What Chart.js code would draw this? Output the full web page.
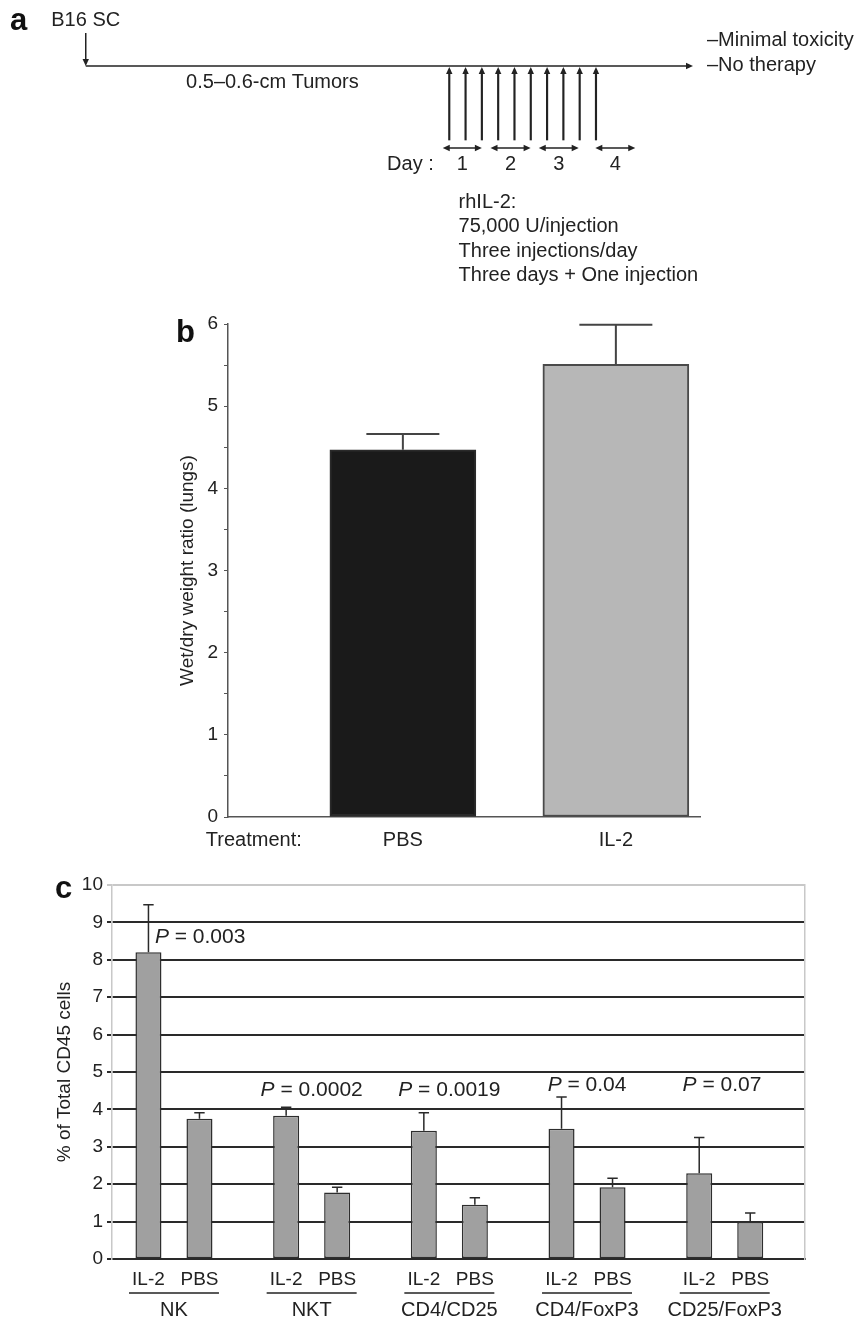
<!DOCTYPE html>
<html>
<head>
<meta charset="utf-8">
<script src="https://cdn.jsdelivr.net/npm/chart.js@4.4.1/dist/chart.umd.min.js"></script>
<style>
  html, body { margin: 0; padding: 0; background: #fff; }
  #page { position: relative; width: 863px; height: 1321px; }
  canvas { position: absolute; left: 0; }
  #panel_a { top: 0; }
  #panel_b { top: 300px; }
  #panel_c { top: 860px; }
</style>
</head>
<body>
<div id="page">
  <canvas id="panel_a" width="863" height="300"></canvas>
  <canvas id="panel_b" width="863" height="560"></canvas>
  <canvas id="panel_c" width="863" height="461"></canvas>
</div>
<script>
// panel a: treatment schedule (time in injection intervals, 0 = first dose)
const injections = [0, 1, 2, 3, 4, 5, 6, 7, 8, 9];
const implantTime = -22.3;
const timelineEnd = 14.95;
const tumorLabelTime = -10.85;
const dayLabels = ['1', '2', '3', '4'];
const daySpans = [[-0.4, 2.0], [2.53, 4.99], [5.49, 7.94], [8.96, 11.41]];
const regimen = ['rhIL-2:', '75,000 U/injection', 'Three injections/day', 'Three days + One injection'];
const outcomes = ['\u2013Minimal toxicity', '\u2013No therapy'];

// panel b: lung wet/dry weight ratio
const treatments = ['PBS', 'IL-2'];
const ratioMeans = [4.47, 5.51];
const ratioErr = [0.19, 0.48];
const bTickPos = [0.3, 1, 2];
const bTickText = ['Treatment:', 'PBS', 'IL-2'];

// panel c: % of total CD45 cells
const cellTypes = ['NK', 'NKT', 'CD4/CD25', 'CD4/FoxP3', 'CD25/FoxP3'];
const il2Pct = [8.2, 3.83, 3.43, 3.48, 2.29];
const il2Err = [1.27, 0.23, 0.48, 0.85, 0.96];
const pbsPct = [3.75, 1.78, 1.45, 1.92, 0.99];
const pbsErr = [0.16, 0.14, 0.19, 0.24, 0.24];
const pValues = ['0.003', '0.0002', '0.0019', '0.04', '0.07'];
const pLabelY = [8.61, 4.52, 4.52, 4.65, 4.65];
const pLabelDx = [0.19, 0, 0, 0, -0.02];

const FONT = "'Liberation Sans', Arial, sans-serif";
const INK = '#222';

function arrowHead(ctx, x, y, angle) {
  ctx.save();
  ctx.translate(x, y);
  ctx.rotate(angle);
  ctx.beginPath();
  ctx.moveTo(0, 0);
  ctx.lineTo(-7, -3.2);
  ctx.lineTo(-7, 3.2);
  ctx.closePath();
  ctx.fill();
  ctx.restore();
}

function panelLetter(ctx, letter, x, y) {
  ctx.save();
  ctx.fillStyle = '#111';
  ctx.font = 'bold 31px ' + FONT;
  ctx.textBaseline = 'middle';
  ctx.textAlign = 'left';
  ctx.fillText(letter, x, y);
  ctx.restore();
}

const errorBars = {
  id: 'errorBars',
  afterDatasetsDraw(chart, args, opts) {
    const ctx = chart.ctx;
    const ys = chart.scales.y;
    ctx.save();
    ctx.strokeStyle = opts.color;
    ctx.lineWidth = opts.width;
    chart.data.datasets.forEach((ds, i) => {
      if (!ds.errorBars) return;
      const meta = chart.getDatasetMeta(i);
      meta.data.forEach((bar, j) => {
        const d = ds.data[j];
        const v = typeof d === 'object' ? d.y : d;
        const top = ys.getPixelForValue(v + ds.errorBars[j]);
        const half = bar.width * opts.capRatio / 2;
        ctx.beginPath();
        ctx.moveTo(bar.x, bar.y);
        ctx.lineTo(bar.x, top);
        ctx.moveTo(bar.x - half, top);
        ctx.lineTo(bar.x + half, top);
        ctx.stroke();
      });
    });
    ctx.restore();
  }
};

function schedule() {
  const textPlugin = {
    id: 'scheduleText',
    afterDraw(chart) {
      const ctx = chart.ctx;
      const xs = chart.scales.x;
      const ys = chart.scales.y;
      const lineY = ys.getPixelForValue(66);
      ctx.save();
      ctx.fillStyle = INK;
      ctx.strokeStyle = INK;
      ctx.lineWidth = 1.5;
      panelLetter(ctx, 'a', 10, 21);

      ctx.font = '20px ' + FONT;
      ctx.textBaseline = 'middle';
      // implant
      const ix = xs.getPixelForValue(implantTime);
      ctx.textAlign = 'center';
      ctx.fillText('B16 SC', ix, 20);
      ctx.beginPath();
      ctx.moveTo(ix, 33);
      ctx.lineTo(ix, lineY - 4);
      ctx.stroke();
      arrowHead(ctx, ix, lineY, Math.PI / 2);
      // timeline end
      const ex = xs.getPixelForValue(timelineEnd);
      arrowHead(ctx, ex, lineY, 0);
      ctx.fillText('0.5\u20130.6-cm Tumors', xs.getPixelForValue(tumorLabelTime), 82);
      ctx.textAlign = 'left';
      ctx.fillText(outcomes[0], ex + 14, 40);
      ctx.fillText(outcomes[1], ex + 14, 65);
      // injection heads
      injections.forEach(t => arrowHead(ctx, xs.getPixelForValue(t), lineY + 1, -Math.PI / 2));
      // day spans
      daySpans.forEach((s, i) => {
        const x1 = xs.getPixelForValue(s[0]);
        const x2 = xs.getPixelForValue(s[1]);
        ctx.beginPath();
        ctx.moveTo(x1 + 3, 148);
        ctx.lineTo(x2 - 3, 148);
        ctx.stroke();
        arrowHead(ctx, x1, 148, Math.PI);
        arrowHead(ctx, x2, 148, 0);
        ctx.textAlign = 'center';
        ctx.fillText(dayLabels[i], (x1 + x2) / 2, 164);
      });
      ctx.textAlign = 'right';
      ctx.fillText('Day :', xs.getPixelForValue(daySpans[0][0]) - 9, 164);
      ctx.textAlign = 'left';
      const rx = xs.getPixelForValue(0.57);
      regimen.forEach((line, i) => ctx.fillText(line, rx, 202 + i * 24.5));
      ctx.restore();
    }
  };

  new Chart(document.getElementById('panel_a'), {
    type: 'bar',
    data: {
      datasets: [
        {
          type: 'line',
          data: [{ x: implantTime, y: 66 }, { x: timelineEnd - 0.3, y: 66 }],
          borderColor: INK,
          borderWidth: 1.5,
          pointRadius: 0,
        },
        {
          type: 'bar',
          data: injections.map(t => ({ x: t, y: [70, 140] })),
          backgroundColor: INK,
          barThickness: 1.5,
        },
      ],
    },
    options: {
      responsive: false,
      animation: false,
      layout: { padding: 0 },
      plugins: { legend: { display: false }, tooltip: { enabled: false } },
      scales: {
        x: { type: 'linear', display: false, offset: false, min: -27.56, max: 25.38 },
        y: { type: 'linear', display: false, min: 0, max: 300, reverse: true },
      },
    },
    plugins: [textPlugin],
  });
}

function lungRatio() {
  new Chart(document.getElementById('panel_b'), {
    type: 'bar',
    data: {
      datasets: [
        {
          data: treatments.map((t, i) => ({ x: i + 1, y: ratioMeans[i] })),
          errorBars: ratioErr,
          backgroundColor: ['#1a1a1a', '#b7b7b7'],
          borderColor: ['#2a2a2a', '#4a4a4a'],
          borderWidth: 2,
          borderSkipped: false,
          barThickness: 146,
        },
      ],
    },
    options: {
      responsive: false,
      animation: false,
      layout: { padding: { left: 160, right: 163, top: 24, bottom: 0 } },
      plugins: {
        legend: { display: false },
        tooltip: { enabled: false },
        errorBars: { color: '#444', width: 2, capRatio: 0.5 },
      },
      scales: {
        x: {
          type: 'linear',
          offset: false,
          min: 0.179,
          max: 2.395,
          afterBuildTicks: (s) => { s.ticks = bTickPos.map(v => ({ value: v })); },
          afterFit: (s) => { s.height = 43; },
          ticks: {
            autoSkip: false,
            maxRotation: 0,
            padding: 11,
            color: INK,
            font: { family: FONT, size: 20 },
            callback: (v) => bTickText[bTickPos.indexOf(v)],
          },
          grid: { display: false, drawTicks: false },
          border: { color: '#555', width: 1.5 },
        },
        y: {
          min: 0,
          max: 6,
          afterFit: (s) => { s.width = 68; },
          ticks: {
            stepSize: 0.5,
            padding: 6,
            color: INK,
            font: { family: FONT, size: 19 },
            callback: (v) => (Number.isInteger(v) ? v : ''),
          },
          grid: { drawOnChartArea: false, tickLength: 4, color: '#555' },
          border: { color: '#555', width: 1.5 },
          title: {
            display: true,
            text: 'Wet/dry weight ratio (lungs)',
            color: INK,
            font: { family: FONT, size: 19 },
            padding: { top: 16, bottom: 0 },
          },
        },
      },
    },
    plugins: [errorBars, {
      id: 'letterB',
      afterDraw(chart) { panelLetter(chart.ctx, 'b', 176, 33); },
    }],
  });
}

function cellPercent() {
  const labelPlugin = {
    id: 'groupLabels',
    afterDraw(chart) {
      const ctx = chart.ctx;
      const xs = chart.scales.x;
      const ys = chart.scales.y;
      const bottom = chart.chartArea.bottom;
      ctx.save();
      ctx.fillStyle = INK;
      ctx.strokeStyle = INK;
      ctx.textBaseline = 'middle';
      ctx.textAlign = 'center';
      ctx.font = '19px ' + FONT;
      chart.data.datasets.forEach((ds, i) => {
        chart.getDatasetMeta(i).data.forEach(bar => ctx.fillText(ds.label, bar.x, bottom + 21));
      });
      ctx.lineWidth = 1.5;
      cellTypes.forEach((c, i) => {
        const cx = xs.getPixelForValue(i);
        ctx.beginPath();
        ctx.moveTo(cx - 45, bottom + 34);
        ctx.lineTo(cx + 45, bottom + 34);
        ctx.stroke();
      });
      // P values
      pValues.forEach((p, i) => {
        const cx = xs.getPixelForValue(i + pLabelDx[i]);
        const cy = ys.getPixelForValue(pLabelY[i]);
        const rest = ' = ' + p;
        ctx.font = 'italic 21px ' + FONT;
        const wP = ctx.measureText('P').width;
        ctx.font = '21px ' + FONT;
        const wR = ctx.measureText(rest).width;
        const x0 = cx - (wP + wR) / 2;
        ctx.textAlign = 'left';
        ctx.font = 'italic 21px ' + FONT;
        ctx.fillText('P', x0, cy);
        ctx.font = '21px ' + FONT;
        ctx.fillText(rest, x0 + wP, cy);
      });
      ctx.restore();
      panelLetter(ctx, 'c', 55, 29);
    }
  };

  new Chart(document.getElementById('panel_c'), {
    type: 'bar',
    data: {
      datasets: [
        {
          label: 'IL-2',
          data: cellTypes.map((c, i) => ({ x: i, y: il2Pct[i] })),
          errorBars: il2Err,
          backgroundColor: '#a0a0a0',
          borderColor: '#2e2e2e',
          borderWidth: 1.5,
          borderSkipped: false,
        },
        {
          label: 'PBS',
          data: cellTypes.map((c, i) => ({ x: i, y: pbsPct[i] })),
          errorBars: pbsErr,
          backgroundColor: '#a0a0a0',
          borderColor: '#2e2e2e',
          borderWidth: 1.5,
          borderSkipped: false,
        },
      ],
    },
    options: {
      responsive: false,
      animation: false,
      layout: { padding: { left: 40, right: 58, top: 25, bottom: 0 } },
      datasets: { bar: { categoryPercentage: 0.741, barPercentage: 0.51 } },
      plugins: {
        legend: { display: false },
        tooltip: { enabled: false },
        errorBars: { color: '#2a2a2a', width: 1.5, capRatio: 0.4 },
      },
      scales: {
        x: {
          type: 'linear',
          offset: false,
          min: -0.45,
          max: 4.583,
          afterBuildTicks: (s) => { s.ticks = cellTypes.map((c, i) => ({ value: i })); },
          afterFit: (s) => { s.height = 62; },
          ticks: {
            autoSkip: false,
            maxRotation: 0,
            padding: 39,
            color: INK,
            font: { family: FONT, size: 20 },
            callback: (v) => cellTypes[v],
          },
          grid: { display: false, drawTicks: false },
          border: { color: '#2a2a2a', width: 2 },
        },
        y: {
          min: 0,
          max: 10,
          afterFit: (s) => { s.width = 72; },
          ticks: { stepSize: 1, padding: 4, color: INK, font: { family: FONT, size: 19 } },
          grid: {
            color: (c) => (c.tick && c.tick.value === 10 ? '#c8c8c8' : '#2a2a2a'),
            lineWidth: 2,
            tickLength: 5,
          },
          border: { color: '#c8c8c8', width: 1.5 },
          title: {
            display: true,
            text: '% of Total CD45 cells',
            color: INK,
            font: { family: FONT, size: 19 },
            padding: { top: 13, bottom: 0 },
          },
        },
        yR: {
          position: 'right',
          min: 0,
          max: 10,
          afterFit: (s) => { s.width = 0; },
          ticks: { display: false },
          grid: { display: false, drawTicks: false },
          border: { color: '#c8c8c8', width: 1.5 },
        },
      },
    },
    plugins: [errorBars, labelPlugin],
  });
}

document.addEventListener('DOMContentLoaded', () => {
  schedule();
  lungRatio();
  cellPercent();
});
</script>
</body>
</html>
